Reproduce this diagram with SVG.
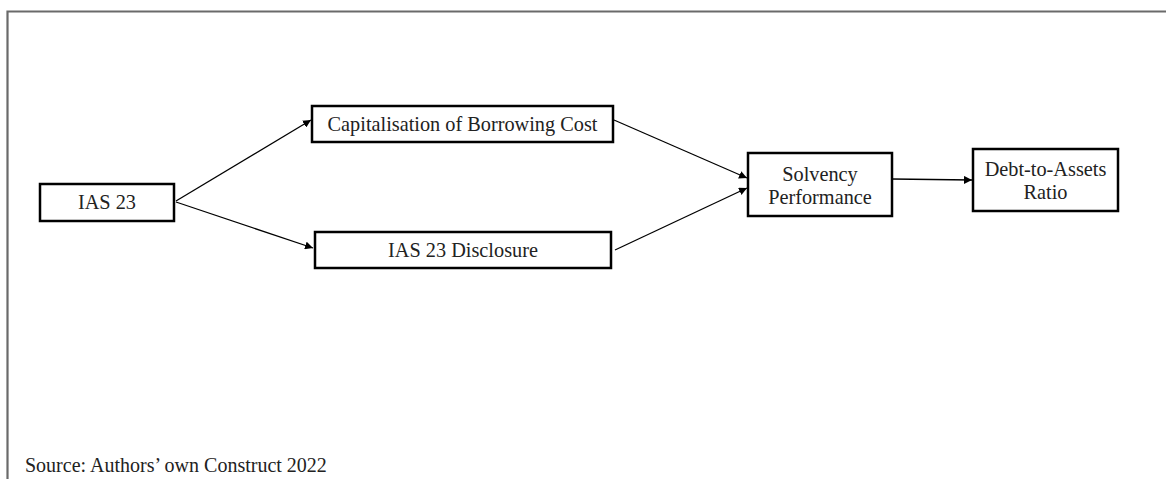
<svg xmlns="http://www.w3.org/2000/svg" width="1166" height="479" viewBox="0 0 1166 479">
<style>
.box{fill:#fff;stroke:#000;stroke-width:2.5}
.t{font-family:"Liberation Serif","Times New Roman",serif;font-size:20.3px;fill:#222;text-anchor:middle}
.c{stroke:#000;stroke-width:1.3;fill:none;marker-end:url(#ah)}
</style>
<defs>
<marker id="ah" viewBox="0 0 10 10" refX="10" refY="5" markerWidth="8" markerHeight="8" markerUnits="userSpaceOnUse" orient="auto">
<path d="M0,0 L10,5 L0,10 z" fill="#000"/>
</marker>
</defs>
<rect width="1166" height="479" fill="#fff"/>
<path d="M7.5,479 V11.5 H1166" fill="none" stroke="#6a6a6a" stroke-width="2.2"/>
<g id="connectors">
<line class="c" x1="176" y1="201" x2="311" y2="120"/>
<line class="c" x1="176" y1="202" x2="313" y2="248"/>
<line class="c" x1="614" y1="120" x2="747" y2="178"/>
<line class="c" x1="615" y1="250" x2="747" y2="188"/>
<line class="c" x1="892" y1="179" x2="972" y2="180"/>
</g>
<g id="ias23">
<rect class="box" x="40" y="184" width="134" height="37"/>
<text class="t" x="107" y="209">IAS 23</text>
</g>
<g id="capitalisation">
<rect class="box" x="312" y="106" width="301" height="36"/>
<text class="t" x="462.5" y="131">Capitalisation of Borrowing Cost</text>
</g>
<g id="disclosure">
<rect class="box" x="315" y="232" width="296" height="36"/>
<text class="t" x="463" y="257">IAS 23 Disclosure</text>
</g>
<g id="solvency">
<rect class="box" x="748" y="153" width="144" height="63"/>
<text class="t" x="820" y="181">Solvency</text>
<text class="t" x="820" y="204">Performance</text>
</g>
<g id="debt">
<rect class="box" x="973" y="149" width="145" height="62"/>
<text class="t" x="1045.5" y="176">Debt-to-Assets</text>
<text class="t" x="1045.5" y="199">Ratio</text>
</g>
<text x="25" y="472" style="font-family:'Liberation Serif','Times New Roman',serif;font-size:20px;fill:#222">Source: Authors’ own Construct 2022</text>
</svg>
